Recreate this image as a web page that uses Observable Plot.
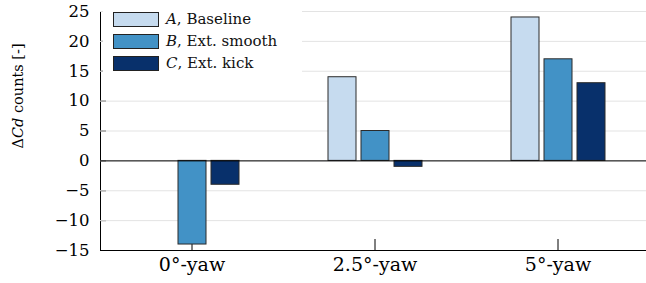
<!DOCTYPE html>
<html><head><meta charset="utf-8">
<script src="https://cdn.jsdelivr.net/npm/d3@7"></script>
<script src="https://cdn.jsdelivr.net/npm/@observablehq/plot@0.6"></script>
<style>
body{margin:0;background:#fff;overflow:hidden;}
#wrap{position:relative;width:646px;height:283px;overflow:hidden;font-family:"DejaVu Serif",serif;}
#wrap svg text{font-family:"DejaVu Serif",serif;}
g[aria-label="fx-axis tick label"] text{font-size:19px;}
g[aria-label="y-axis tick label"] text{font-size:16.5px;}
.legend{position:absolute;left:103px;top:3px;width:199px;height:80px;background:#fff;}
.row{position:absolute;left:10px;height:16px;display:flex;align-items:center;font-family:"DejaVu Serif",serif;font-size:15px;color:#111;white-space:nowrap;}
.sw{width:44px;height:13px;border:1px solid #222;margin-right:7px;box-sizing:content-box;}
</style></head><body><div id="wrap"></div>
<script>
const groups = ["0°-yaw", "2.5°-yaw", "5°-yaw"];
const series = ["A", "B", "C"];
const seriesNames = ["Baseline", "Ext. smooth", "Ext. kick"];
const valuesA = [0, 14, 24];
const valuesB = [-14, 5, 17];
const valuesC = [-4, -1, 13];
const yTicks = [-15, -10, -5, 0, 5, 10, 15, 20, 25];
const colors = ["#c6dbef", "#4292c6", "#08306b"];

const allValues = [valuesA, valuesB, valuesC];
const data = [];
groups.forEach((g, gi) => series.forEach((s, si) => data.push({group: g, series: s, value: allValues[si][gi]})));

const plot = Plot.plot({
  width: 646, height: 283,
  marginLeft: 99, marginRight: -4, marginTop: 11, marginBottom: 33,
  style: {fontFamily: "'DejaVu Serif', serif", fontSize: "16px", background: "#fff", color: "#000", overflow: "hidden"},
  fx: {domain: groups, padding: 0, label: null, tickSize: -11, tickPadding: 18},
  x: {domain: series, paddingInner: 0.156, paddingOuter: 1.28, axis: null},
  y: {domain: [-15, 25], ticks: yTicks, label: null, tickSize: -6, tickPadding: 17, line: true},
  color: {domain: series, range: colors},
  marks: [
    Plot.gridY(yTicks, {stroke: "#e3e3e3", strokeOpacity: 1}),
    Plot.barY(data, {fx: "group", x: "series", y: "value", fill: "series", stroke: "#2b2b2b", strokeWidth: 1}),
    Plot.ruleY([0], {stroke: "#000", strokeWidth: 1}),
    Plot.ruleY([-15], {stroke: "#000", strokeWidth: 1.2})
  ]
});
const wrap = document.getElementById("wrap");
wrap.appendChild(plot);

const svg = d3.select(plot);
const lab = svg.append("text")
  .attr("transform", "translate(23,96) rotate(-90)")
  .attr("text-anchor", "middle")
  .attr("font-size", 14.5)
  .attr("fill", "#000");
lab.append("tspan").text("Δ");
lab.append("tspan").attr("font-style", "italic").text("Cd");
lab.append("tspan").text(" counts [-]");

const leg = document.createElement("div");
leg.className = "legend";
series.forEach((s, i) => {
  const row = document.createElement("div");
  row.className = "row";
  row.style.top = (16 + i * 22 - 8) + "px";
  const sw = document.createElement("div");
  sw.className = "sw";
  sw.style.background = colors[i];
  const t = document.createElement("span");
  t.innerHTML = "<i>" + s + "</i>, " + seriesNames[i];
  row.appendChild(sw); row.appendChild(t);
  leg.appendChild(row);
});
wrap.appendChild(leg);
</script></body></html>
